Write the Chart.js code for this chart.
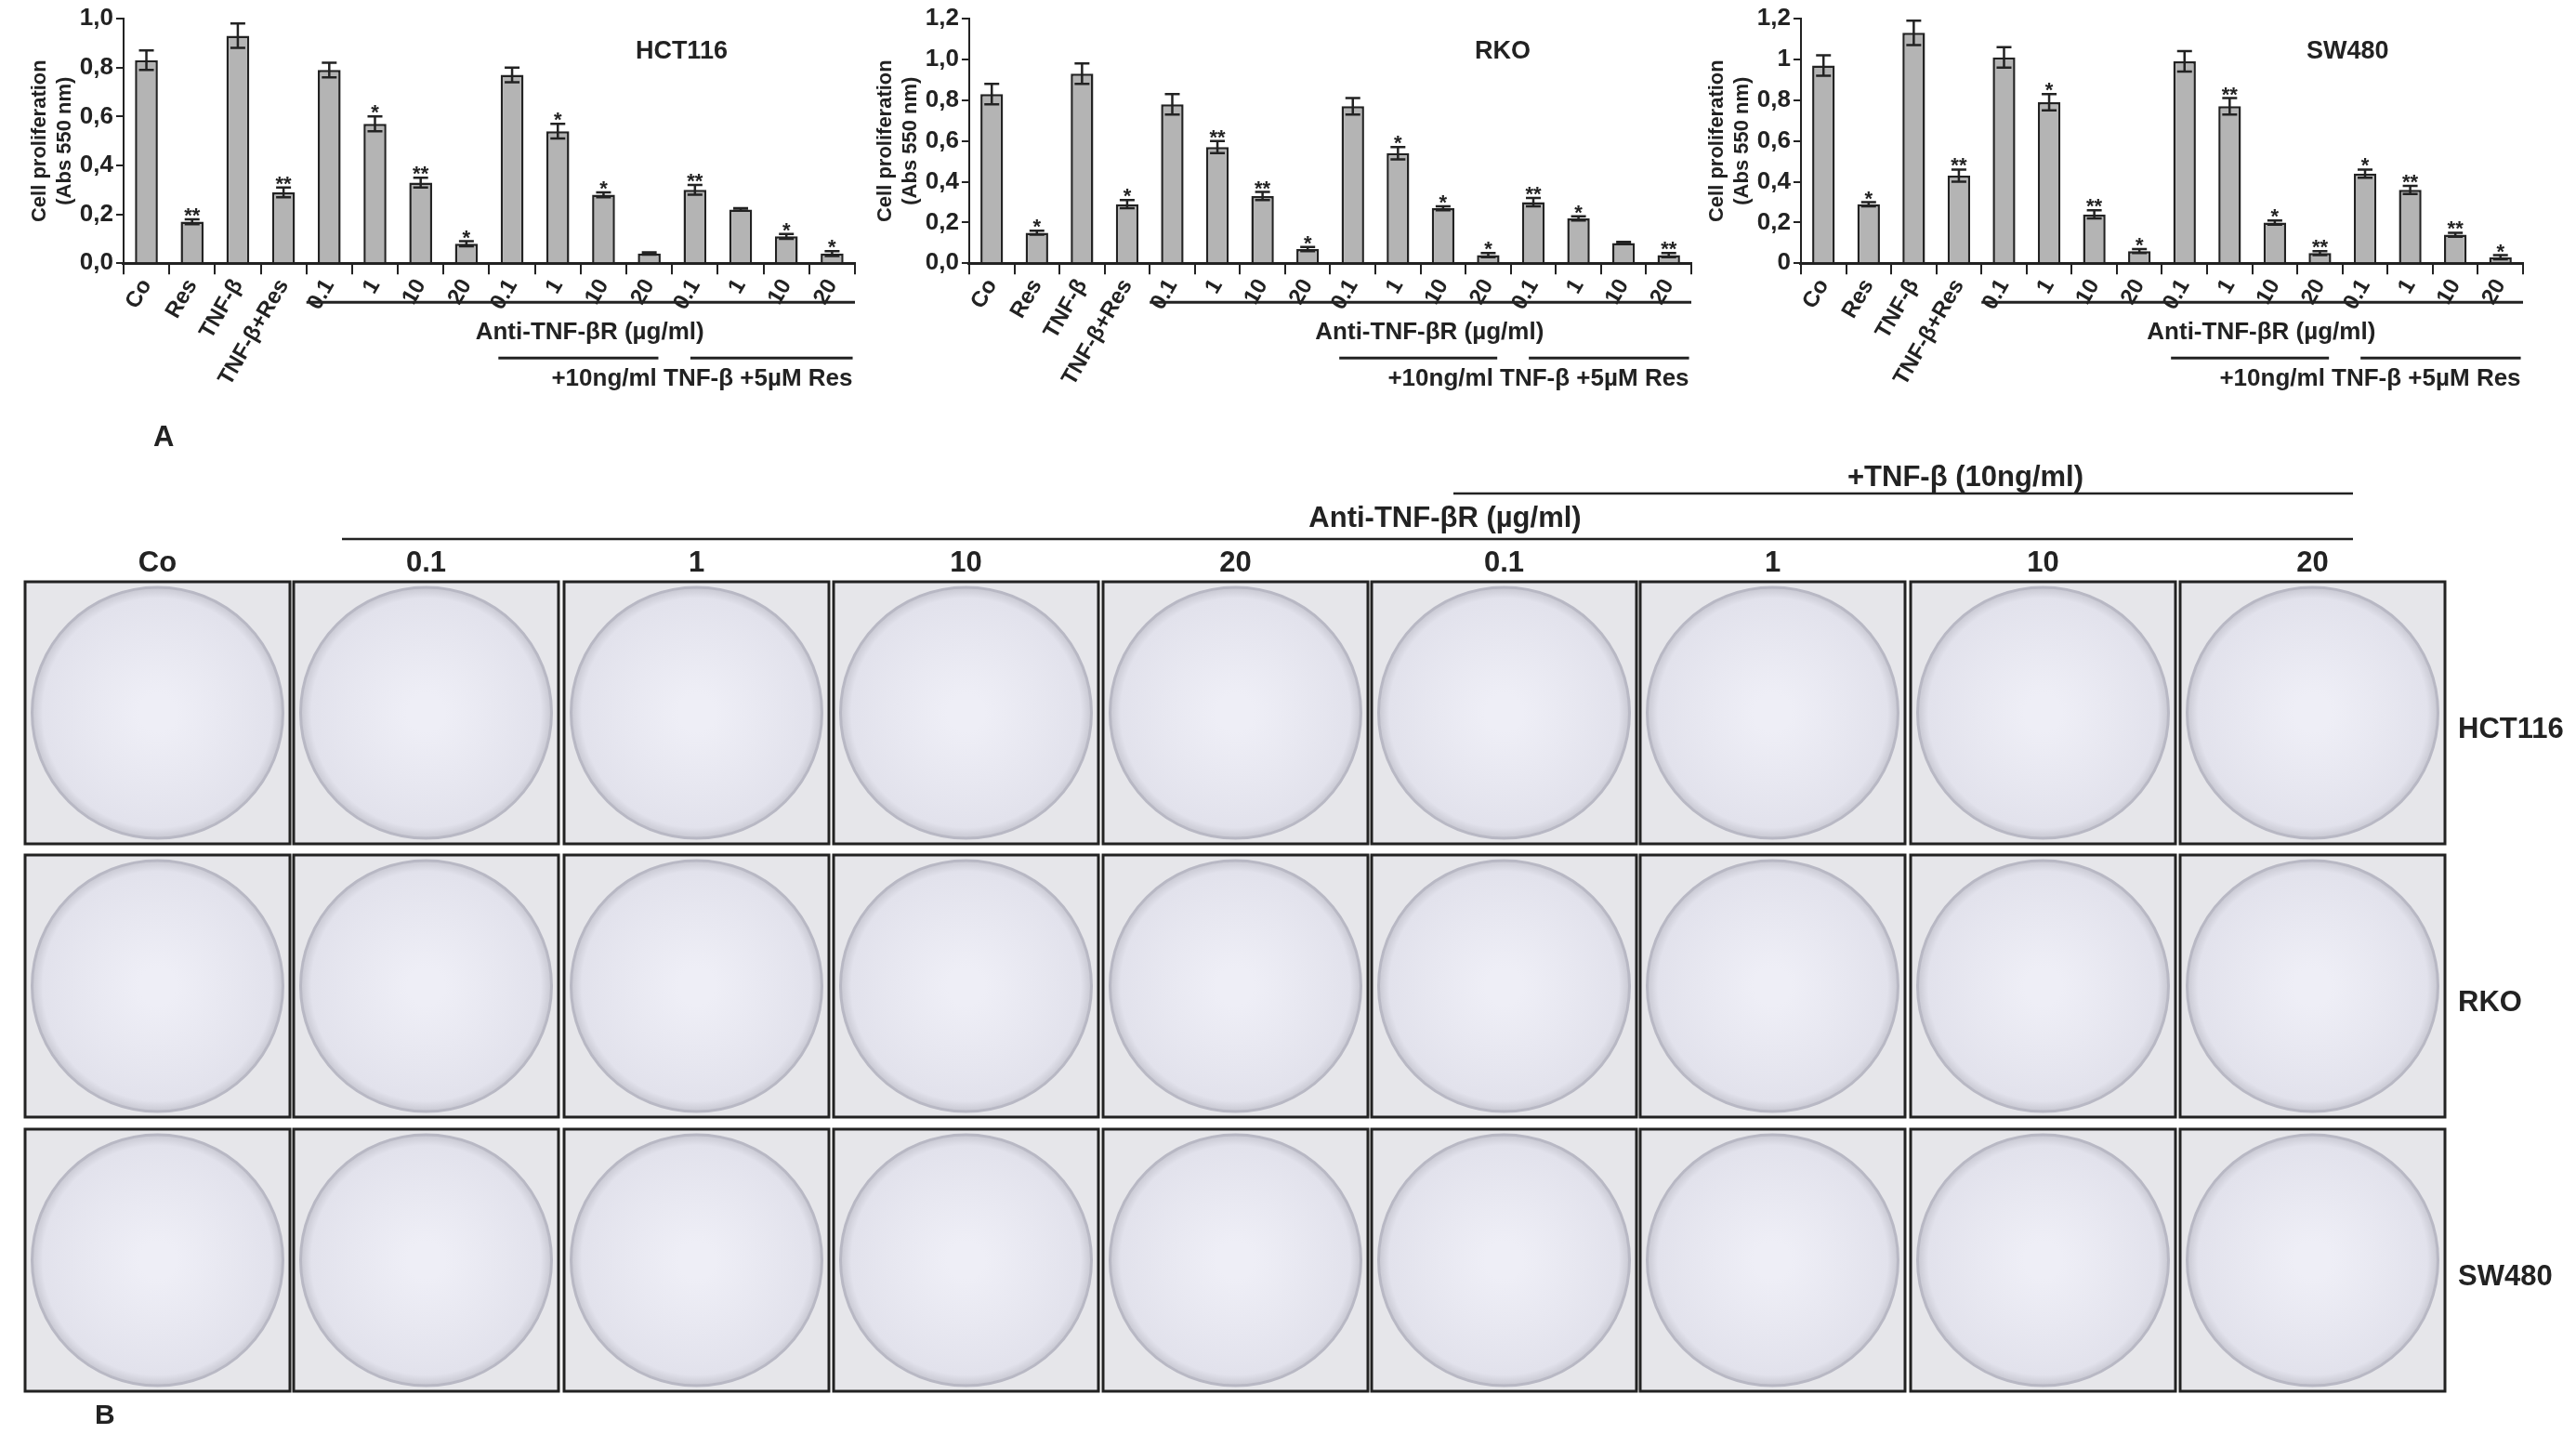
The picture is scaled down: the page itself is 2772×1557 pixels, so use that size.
<!DOCTYPE html>
<html>
<head>
<meta charset="utf-8">
<script src="https://cdn.jsdelivr.net/npm/chart.js@4"></script>
<style>
  body { margin: 0; background: #fff; width: 2772px; height: 1557px; position: relative; overflow: hidden; font-family: "Liberation Sans", Arial, sans-serif; }
  .box { position: absolute; }
  .lbl { position: absolute; font-weight: bold; font-size: 31px; color: #222; }
  #panelB { position: absolute; left: 0; top: 0; }
</style>
</head>
<body>
<canvas id="panelB" width="2772" height="1557"></canvas>
<div class="box" style="left:30px;top:0;width:910px;height:470px"><canvas id="c1"></canvas></div>
<div class="box" style="left:940px;top:0;width:900px;height:470px"><canvas id="c2"></canvas></div>
<div class="box" style="left:1835px;top:0;width:900px;height:470px"><canvas id="c3"></canvas></div>
<div class="lbl" style="left:165px;top:452px">A</div>
<div class="lbl" style="left:102px;top:1505px;font-size:30px">B</div>
<script>
const categories = ["Co", "Res", "TNF-β", "TNF-β+Res", "0.1", "1", "10", "20", "0.1", "1", "10", "20", "0.1", "1", "10", "20"];

const hctValues = [0.83, 0.17, 0.93, 0.29, 0.79, 0.57, 0.33, 0.08, 0.77, 0.54, 0.28, 0.04, 0.30, 0.22, 0.11, 0.04];
const hctErrors = [0.04, 0.01, 0.05, 0.02, 0.03, 0.03, 0.02, 0.01, 0.03, 0.03, 0.01, 0.005, 0.02, 0.005, 0.01, 0.01];
const hctStars  = ["", "**", "", "**", "", "*", "**", "*", "", "*", "*", "", "**", "", "*", "*"];

const rkoValues = [0.83, 0.15, 0.93, 0.29, 0.78, 0.57, 0.33, 0.07, 0.77, 0.54, 0.27, 0.04, 0.30, 0.22, 0.10, 0.04];
const rkoErrors = [0.05, 0.01, 0.05, 0.02, 0.05, 0.03, 0.02, 0.01, 0.04, 0.03, 0.01, 0.01, 0.02, 0.01, 0.005, 0.01];
const rkoStars  = ["", "*", "", "*", "", "**", "**", "*", "", "*", "*", "*", "**", "*", "", "**"];

const swValues = [0.97, 0.29, 1.13, 0.43, 1.01, 0.79, 0.24, 0.06, 0.99, 0.77, 0.20, 0.05, 0.44, 0.36, 0.14, 0.03];
const swErrors = [0.05, 0.01, 0.06, 0.03, 0.05, 0.04, 0.02, 0.01, 0.05, 0.04, 0.01, 0.01, 0.02, 0.02, 0.01, 0.01];
const swStars  = ["", "*", "", "**", "", "*", "**", "*", "", "**", "*", "**", "*", "**", "**", "*"];

const hctTicks = ["0,0", "0,2", "0,4", "0,6", "0,8", "1,0"];
const rkoTicks = ["0,0", "0,2", "0,4", "0,6", "0,8", "1,0", "1,2"];
const swTicks  = ["0", "0,2", "0,4", "0,6", "0,8", "1", "1,2"];

const plateCols = ["Co", "0.1", "1", "10", "20", "0.1", "1", "10", "20"];
const plateRows = ["HCT116", "RKO", "SW480"];

const FONT = "Liberation Sans";
const INK = "#222";

// error bars, stars, titles and the treatment brackets under the x axis
const extras = {
  id: "extras",
  afterDatasetsDraw(chart, args, opts) {
    const ctx = chart.ctx, x = chart.scales.x, y = chart.scales.y, a = chart.chartArea;
    const meta = chart.getDatasetMeta(0);
    ctx.save();
    ctx.strokeStyle = INK; ctx.fillStyle = INK; ctx.lineWidth = 2.5;
    opts.values.forEach((v, i) => {
      const cx = meta.data[i].x;
      const top = y.getPixelForValue(v + opts.errors[i]);
      const bot = y.getPixelForValue(Math.max(0, v - opts.errors[i]));
      ctx.beginPath();
      ctx.moveTo(cx, top); ctx.lineTo(cx, bot);
      ctx.moveTo(cx - 8, top); ctx.lineTo(cx + 8, top);
      ctx.moveTo(cx - 8, bot); ctx.lineTo(cx + 8, bot);
      ctx.stroke();
      if (opts.stars[i]) {
        ctx.font = "bold 22px " + FONT;
        ctx.textAlign = "center"; ctx.textBaseline = "bottom";
        ctx.fillText(opts.stars[i], cx, top + 8);
      }
    });
    ctx.font = "bold 27px " + FONT;
    ctx.textAlign = "left"; ctx.textBaseline = "middle";
    ctx.fillText(opts.title, a.left + (a.right - a.left) * 0.7, a.top + 36);

    const px = i => x.getPixelForValue(i);
    const half = (px(1) - px(0)) / 2;
    ctx.lineWidth = 3;
    const l1 = a.bottom + 42, l2 = a.bottom + 102;
    ctx.beginPath();
    ctx.moveTo(px(4) - half, l1); ctx.lineTo(px(15) + half, l1);
    ctx.moveTo(px(8) - half * 0.6, l2); ctx.lineTo(px(11) + half * 0.4, l2);
    ctx.moveTo(px(12) - half * 0.2, l2); ctx.lineTo(px(15) + half * 0.9, l2);
    ctx.stroke();
    ctx.font = "bold 26px " + FONT;
    ctx.textAlign = "center"; ctx.textBaseline = "middle";
    ctx.fillText("Anti-TNF-βR (µg/ml)", (px(4) + px(15)) / 2 + half * 0.4, a.bottom + 75);
    ctx.textAlign = "right";
    ctx.fillText("+10ng/ml TNF-β +5µM Res", px(15) + half * 0.9, a.bottom + 125);
    ctx.restore();
  }
};

function makeChart(id, title, values, errors, stars, ticks, max) {
  new Chart(document.getElementById(id), {
    type: "bar",
    data: {
      labels: categories,
      datasets: [{
        data: values,
        backgroundColor: "#b4b4b4",
        borderColor: INK,
        borderWidth: 2.5,
        barPercentage: 0.5,
        categoryPercentage: 1
      }]
    },
    options: {
      responsive: true,
      maintainAspectRatio: false,
      animation: false,
      layout: { padding: { top: 20, right: 20, bottom: 50, left: 0 } },
      scales: {
        x: {
          grid: { display: true, offset: true, drawOnChartArea: false, drawTicks: true, tickLength: 12, color: INK, lineWidth: 2 },
          border: { color: INK, width: 3 },
          ticks: { minRotation: 60, maxRotation: 60, color: INK, font: { family: FONT, size: 24, weight: "bold" }, padding: 0 }
        },
        y: {
          min: 0, max: max,
          grid: { drawOnChartArea: false, tickLength: 8, color: INK, lineWidth: 2 },
          border: { color: INK, width: 2 },
          ticks: {
            stepSize: 0.2, color: INK,
            font: { family: FONT, size: 26, weight: "bold" },
            callback: (v, i) => ticks[i]
          },
          title: { display: true, text: ["Cell proliferation", "(Abs 550 nm)"], color: INK, font: { family: FONT, size: 22, weight: "bold" }, padding: 0 }
        }
      },
      plugins: {
        legend: { display: false },
        tooltip: { enabled: false },
        extras: { title, values, errors, stars }
      }
    },
    plugins: [extras]
  });
}

makeChart("c1", "HCT116", hctValues, hctErrors, hctStars, hctTicks, 1.0);
makeChart("c2", "RKO", rkoValues, rkoErrors, rkoStars, rkoTicks, 1.2);
makeChart("c3", "SW480", swValues, swErrors, swStars, swTicks, 1.2);

// panel B: plate grid (photographs are represented by empty dishes)
const b = document.getElementById("panelB").getContext("2d");
const colX = [27, 316, 607, 897, 1187, 1476, 1765, 2056, 2346];
const rowY = [626, 920, 1215];
const boxW = 285, boxH = 282;
b.fillStyle = INK;
b.font = "bold 31px " + FONT;
b.textAlign = "center"; b.textBaseline = "middle";
plateCols.forEach((c, i) => b.fillText(c, colX[i] + boxW / 2, 606));
b.fillText("Anti-TNF-βR (µg/ml)", 1555, 558);
b.fillText("+TNF-β (10ng/ml)", 2115, 514);
b.strokeStyle = INK; b.lineWidth = 2.5;
b.beginPath();
b.moveTo(368, 580); b.lineTo(2532, 580);
b.moveTo(1564, 531); b.lineTo(2532, 531);
b.stroke();
b.textAlign = "left";
plateRows.forEach((r, j) => b.fillText(r, 2645, rowY[j] + boxH / 2 + 18));
rowY.forEach(y => colX.forEach(x => {
  b.fillStyle = "#e6e6ea";
  b.fillRect(x, y, boxW, boxH);
  const g = b.createRadialGradient(x + boxW / 2, y + boxH / 2, 20, x + boxW / 2, y + boxH / 2, 135);
  g.addColorStop(0, "#eeeef6"); g.addColorStop(0.9, "#e2e2ec"); g.addColorStop(1, "#c8c8d2");
  b.fillStyle = g;
  b.beginPath(); b.arc(x + boxW / 2, y + boxH / 2, 135, 0, Math.PI * 2); b.fill();
  b.strokeStyle = "#b8b8c4"; b.lineWidth = 3; b.stroke();
  b.strokeStyle = INK; b.lineWidth = 3;
  b.strokeRect(x, y, boxW, boxH);
}));
</script>
</body>
</html>
